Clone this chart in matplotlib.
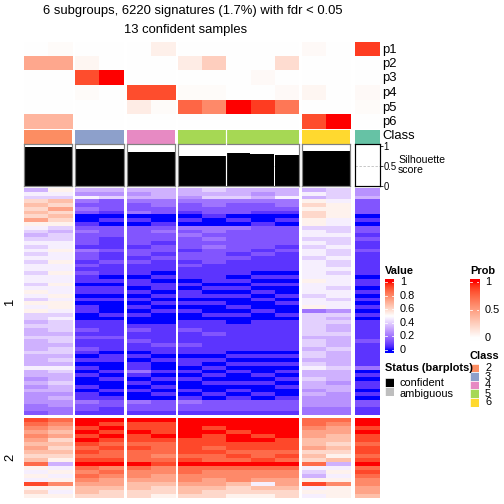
import numpy as np
import matplotlib
matplotlib.use('Agg')
import matplotlib.pyplot as plt
from matplotlib.colors import ListedColormap

plt.rcParams['font.family'] = ['Liberation Sans', 'DejaVu Sans']

# columns (samples) in display order
classes = [2, 2, 3, 3, 4, 4, 5, 5, 5, 5, 5, 6, 6, 1]
group_order = [2, 3, 4, 5, 6, 1]
class_colors = {1: '#66C2A5', 2: '#FC8D62', 3: '#8DA0CB', 4: '#E78AC3', 5: '#A6D854', 6: '#FFD92F'}
legend_classes = [2, 3, 4, 5, 6]

p1 = [0, 0.02, 0, 0, 0, 0.08, 0, 0, 0, 0, 0, 0.03, 0, 0.9]
p2 = [0.45, 0.45, 0.05, 0, 0, 0, 0.1, 0.25, 0, 0, 0.18, 0, 0, 0]
p3 = [0, 0, 0.85, 1.0, 0, 0, 0, 0, 0, 0.03, 0, 0, 0, 0]
p4 = [0, 0, 0.02, 0, 0.85, 0.85, 0.02, 0.02, 0, 0, 0.03, 0.05, 0, 0.03]
p5 = [0, 0, 0, 0, 0.1, 0.02, 0.75, 0.6, 1.0, 0.9, 0.68, 0, 0, 0.02]
p6 = [0.38, 0.38, 0, 0, 0, 0, 0, 0, 0, 0, 0, 0.85, 1.0, 0]
silhouette = [0.975, 0.975, 0.92, 0.92, 0.84, 0.84, 0.74, 0.74, 0.82, 0.79, 0.77, 0.87, 0.87, 0]

# heatmap values, one hex digit per row band (0 -> 0, F -> 1), one string per column
top_rows = [
    "576 9A9A 9B8 7656 7676767 76776787687 8665 65565556555 755454544 4332",
    "876 A9B9 A98 6566 7787787 78778778788 7676 66566566565 765565545 4433",
    "547 3232 001 2322 2132212 12110110101 1001 12121121010 101001011 3221",
    "546 2221 010 2221 1121121 11010110100 0101 11121110110 010100101 2211",
    "545 3223 010 2222 2122121 11011010101 0100 12112110101 131010100 3221",
    "555 3322 001 2322 1221211 10101101010 1000 11111211010 010101010 2221",
    "554 3221 010 3232 2212212 11101011010 1001 12111211011 010100101 3221",
    "656 3322 100 3323 2322221 11110101010 0101 11211111010 101010010 2221",
    "556 3222 010 3222 2221211 11010101001 0100 11111110101 010010101 2221",
    "545 3221 001 2222 2212111 10101010100 1001 11111110101 001010010 2221",
    "557 3321 010 2222 2121111 10101001010 0101 11111110101 010101001 2221",
    "575 8989 988 6776 7677677 77787776778 3666 66656656656 755655454 4433",
    "666 7888 877 6676 6766766 76777677677 4656 55655565555 655545544 4433",
    "445 2222 010 2212 1121111 11011010101 0101 11112111111 301011010 2211",
]
bottom_rows = [
    "ED CBCB ABA9A D 878 7 E 898",
    "DC BAB9 A9A98 5 787 8 C 878",
    "FF EFEF EDEDE F DCD C B AA9",
    "FE FEFE DEDDE F CDC B B A99",
    "FE EFEE DEDDD F DCC B A A99",
    "FE EEFE DDDCD E CCB B A 998",
    "FF FFFE EEEDE F DDC C B AA9",
    "FF EFEE EDEDD F DCC B B A99",
    "FF FEFF EEDED F DCC C A 998",
    "FF FFEF EEDDE F DCC B 7 A98",
    "FF FFFE EEDED F DCC B B A99",
    "DD CBBA AB9A9 D 765 8 E 787",
    "DC BBAA 9A98A 5 787 8 C 888",
    "FF EFEE DEEDE F DED C C BBA",
]


M = np.array([[0.4124, 0.3576, 0.1805], [0.2126, 0.7152, 0.0722], [0.0193, 0.1192, 0.9505]])
WP = np.array([0.95047, 1.0, 1.08883])


def to_lab(c):
    c = np.asarray(c, float)
    lin = np.where(c > 0.04045, ((c + 0.055) / 1.055) ** 2.4, c / 12.92)
    xyz = M @ lin / WP
    f = np.where(xyz > 0.008856, np.cbrt(xyz), 7.787 * xyz + 16 / 116)
    return np.array([116 * f[1] - 16, 500 * (f[0] - f[1]), 200 * (f[1] - f[2])])


def to_rgb(lab):
    fy = (lab[0] + 16) / 116
    f = np.array([fy + lab[1] / 500, fy, fy - lab[2] / 200])
    xyz = np.where(f ** 3 > 0.008856, f ** 3, (f - 16 / 116) / 7.787) * WP
    lin = np.clip(np.linalg.solve(M, xyz), 0, 1)
    return np.where(lin > 0.0031308, 1.055 * lin ** (1 / 2.4) - 0.055, 12.92 * lin)


def lab_ramp(cols, n=256):
    labs = [to_lab(c) for c in cols]
    out = []
    for t in np.linspace(0, 1, n):
        s = t * (len(cols) - 1)
        i = min(int(s), len(cols) - 2)
        u = s - i
        out.append(to_rgb(labs[i] * (1 - u) + labs[i + 1] * u))
    return ListedColormap(out)


value_cmap = lab_ramp([(0, 0, 1), (1, 1, 1), (1, 0, 0)])
prob_cmap = lab_ramp([(1, 1, 1), (1, 0, 0)])

W = H = 504
fig = plt.figure(figsize=(7, 7), dpi=72)


def box(x0, y0, x1, y1):
    return fig.add_axes([x0 / W, 1 - y1 / H, (x1 - x0) / W, (y1 - y0) / H])


def txt(x, y, s, **kw):
    kw.setdefault('va', 'center')
    fig.text(x / W, 1 - y / H, s, **kw)


def clean(ax):
    ax.set_xticks([])
    ax.set_yticks([])


def parse(rows):
    return np.array([[int(c, 16) / 15 for c in s.replace(' ', '')] for s in rows]).T


P = np.array([p1, p2, p3, p4, p5, p6])
top = parse(top_rows)
bottom = parse(bottom_rows)
cls = np.array(classes)

cw = 24.15
x = 24.0
for g in group_order:
    idx = np.where(cls == g)[0]
    n = len(idx)
    if g == 1:
        x += 2.5
    x0, x1 = x, x + n * cw
    x = x1 + 3

    ax = box(x0, 42, x1, 129)
    ax.imshow(P[:, idx], cmap=prob_cmap, vmin=0, vmax=1, aspect='auto', interpolation='nearest')
    ax.axis('off')

    ax = box(x0, 130, x1, 144)
    ax.set_facecolor(class_colors[g])
    ax.set_xlim(0, n)
    clean(ax)
    for sp in ax.spines.values():
        sp.set_visible(False)
    if g == 5:
        ax.axvline(2, color='white', lw=1.2)

    ax = box(x0, 143.5, x1, 186)
    ax.bar(np.arange(n) + 0.5, np.array(silhouette)[idx], width=1, color='black', zorder=2)
    ax.axhline(0.5, color='#BBBBBB', ls=(0, (3, 2)), lw=0.8, zorder=1)
    ax.set_xlim(0, n)
    ax.set_ylim(0, 1.06)
    if g == 5:
        ax.axvline(2, color='white', lw=1.2, zorder=3)
    ec = 'black' if g == 1 else '#808080'
    for sp in ax.spines.values():
        sp.set_color(ec)
        sp.set_linewidth(1.2)
    ax.set_xticks([])
    if g == 1:
        ax.yaxis.tick_right()
        ax.set_yticks([0, 0.5, 1], ['0', '0.5', '1'])
        ax.tick_params(axis='y', length=3, width=0.8, pad=1, labelsize=9.5)
    else:
        ax.set_yticks([])

    ax = box(x0, 188, x1, 415)
    ax.imshow(top[:, idx], cmap=value_cmap, vmin=0, vmax=1, aspect='auto', interpolation='nearest')
    ax.axis('off')

    ax = box(x0, 418, x1, 498)
    ax.imshow(bottom[:, idx], cmap=value_cmap, vmin=0, vmax=1, aspect='auto', interpolation='nearest')
    ax.axis('off')

# titles and labels
txt(193, 11, "6 subgroups, 6220 signatures (1.7%) with fdr < 0.05", ha='center', fontsize=13)
txt(186, 30, "13 confident samples", ha='center', fontsize=13)
for i, lab in enumerate(['p1', 'p2', 'p3', 'p4', 'p5', 'p6', 'Class']):
    txt(382, 49.5 + i * 14.5, lab, ha='left', fontsize=13)
txt(398, 165, "Silhouette\nscore", ha='left', fontsize=10.5, linespacing=0.95)
txt(10, 302, "1", ha='center', rotation=90, fontsize=13)
txt(10, 457, "2", ha='center', rotation=90, fontsize=13)


def colorbar(x0, y0, y1, cmap, ticks, labels, v_top, v_bot):
    ax = box(x0, y0, x0 + 9, y1)
    grad = np.linspace(v_top, v_bot, 200)[:, None]
    ax.imshow(np.clip(grad, 0, 1), cmap=cmap, vmin=0, vmax=1, aspect='auto',
              extent=[0, 1, v_bot, v_top])
    ax.set_xlim(0, 1)
    ax.set_ylim(v_bot, v_top)
    ax.axis('off')
    for t, l in zip(ticks, labels):
        ax.plot([0, 0.22], [t, t], color='white', lw=0.8)
        ax.plot([0.78, 1], [t, t], color='white', lw=0.8)
        y = y1 - (t - v_bot) / (v_top - v_bot) * (y1 - y0)
        txt(x0 + 15, y, l, ha='left', fontsize=11)


txt(385, 271, "Value", ha='left', fontsize=11, fontweight='bold')
colorbar(385, 279, 353, value_cmap, [0, 0.2, 0.4, 0.6, 0.8, 1],
         ['0', '0.2', '0.4', '0.6', '0.8', '1'], 1.044, -0.044)
txt(470, 271, "Prob", ha='left', fontsize=11, fontweight='bold')
colorbar(470, 279, 341, prob_cmap, [0, 0.5, 1], ['0', '0.5', '1'], 1.054, -0.054)

txt(385, 368, "Status (barplots)", ha='left', fontsize=11, fontweight='bold')
for i, (lab, col) in enumerate([('confident', 'black'), ('ambiguous', '#BEBEBE')]):
    ax = box(385, 378 + i * 9, 394, 387 + i * 9)
    ax.set_facecolor(col)
    clean(ax)
    for sp in ax.spines.values():
        sp.set_color('white')
    txt(400, 383 + i * 11, lab, ha='left', fontsize=11)

txt(470, 356, "Class", ha='left', fontsize=11, fontweight='bold')
for i, g in enumerate(legend_classes):
    ax = box(470, 363.5 + i * 8.6, 479, 372.1 + i * 8.6)
    ax.set_facecolor(class_colors[g])
    clean(ax)
    for sp in ax.spines.values():
        sp.set_color('white')
    txt(485, 368 + i * 8.6, str(g), ha='left', fontsize=11)

fig.savefig('out.png', dpi=72)
